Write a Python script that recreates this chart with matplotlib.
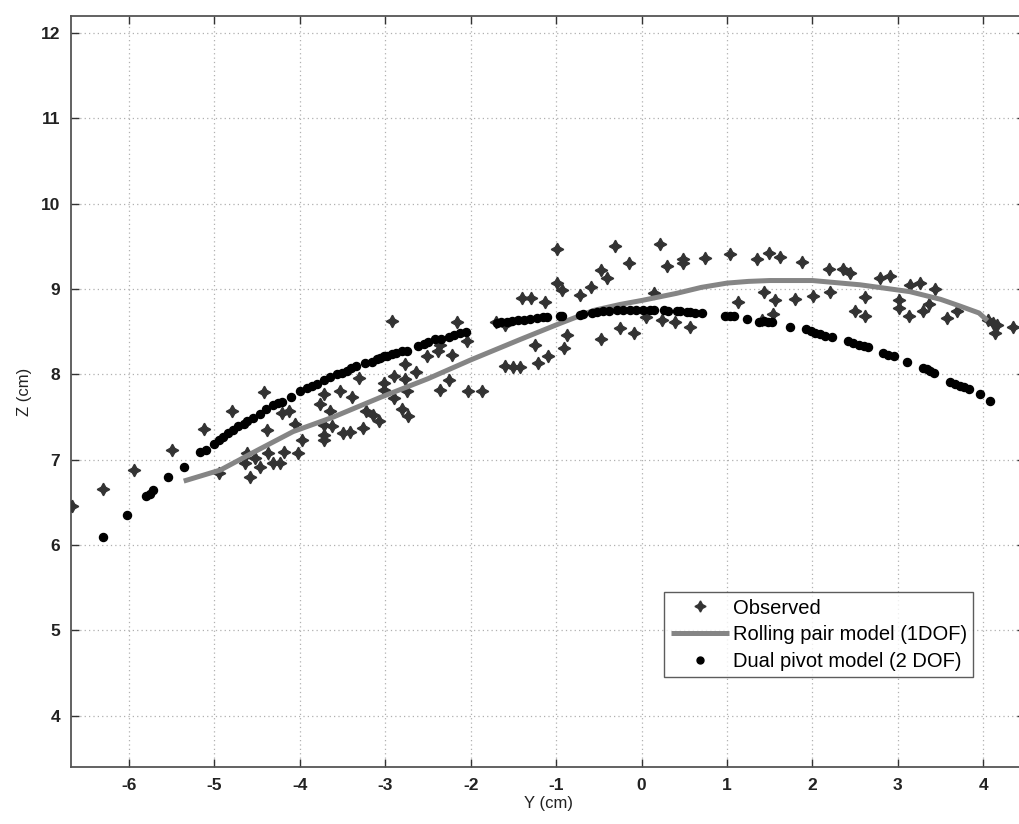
import matplotlib
matplotlib.use("Agg")
import matplotlib.pyplot as plt

plt.rcParams['font.family'] = ['Liberation Sans', 'DejaVu Sans']

# Observed points (Y, Z)
obs_y = [-6.67, -6.31, -5.94, -5.50, -5.12, -4.95, -4.79, -4.64, -4.62, -4.58, -4.52, -4.47,
         -4.42, -4.39, -4.37, -4.31, -4.23, -4.21, -4.19, -4.13, -4.06, -4.02, -3.98, -3.76,
         -3.72, -3.65, -3.72, -3.63, -3.72, -3.72, -3.53, -3.49, -3.41, -3.39, -3.31, -3.26,
         -3.23, -3.14, -3.07, -3.02, -3.02, -2.92, -2.90, -2.90, -2.81, -2.77, -2.77, -2.75,
         -2.73, -2.64, -2.51, -2.38, -2.36, -2.36, -2.26, -2.22, -2.16, -2.04, -2.03, -1.87,
         -1.70, -1.60, -1.60, -1.50, -1.42, -1.40, -1.30, -1.25, -1.21, -1.13, -1.09, -0.99,
         -0.99, -0.93, -0.91, -0.87, -0.72, -0.59, -0.48, -0.48, -0.41, -0.31, -0.25, -0.15,
         -0.09, 0.05, 0.14, 0.22, 0.24, 0.30, 0.39, 0.49, 0.49, 0.57, 0.74, 1.04, 1.13, 1.35,
         1.41, 1.43, 1.49, 1.54, 1.56, 1.62, 1.80, 1.88, 2.01, 2.19, 2.21, 2.36, 2.44, 2.50,
         2.62, 2.62, 2.79, 2.91, 3.01, 3.01, 3.13, 3.14, 3.26, 3.30, 3.36, 3.44, 3.57, 3.69,
         4.06, 4.12, 4.16, 4.14, 4.35]
obs_z = [6.46, 6.66, 6.88, 7.11, 7.36, 6.85, 7.57, 6.96, 7.08, 6.80, 7.02, 6.92,
         7.79, 7.35, 7.08, 6.96, 6.96, 7.55, 7.09, 7.57, 7.42, 7.08, 7.23, 7.65,
         7.77, 7.57, 7.41, 7.39, 7.29, 7.23, 7.81, 7.31, 7.33, 7.74, 7.96, 7.37,
         7.57, 7.53, 7.45, 7.90, 7.82, 8.63, 7.98, 7.72, 7.60, 7.95, 8.12, 7.80,
         7.51, 8.03, 8.22, 8.27, 7.82, 8.35, 7.94, 8.23, 8.61, 8.39, 7.81, 7.80,
         8.62, 8.58, 8.10, 8.09, 8.09, 8.89, 8.89, 8.34, 8.13, 8.85, 8.21, 9.47,
         9.07, 8.99, 8.31, 8.46, 8.93, 9.02, 9.22, 8.42, 9.13, 9.50, 8.54, 9.30,
         8.48, 8.67, 8.95, 9.53, 8.64, 9.27, 8.62, 9.35, 9.30, 8.56, 9.36, 9.41, 8.85, 9.35,
         8.64, 8.97, 9.42, 8.71, 8.87, 9.37, 8.88, 9.32, 8.92, 9.23, 8.97, 9.23, 9.19, 8.74,
         8.69, 8.91, 9.13, 9.15, 8.87, 8.78, 8.69, 9.05, 9.07, 8.74, 8.82, 9.00, 8.66, 8.74,
         8.64, 8.60, 8.58, 8.48, 8.55]

# Rolling pair model (1DOF)
rp_y = [-5.36, -4.93, -4.50, -4.08, -3.61, -3.06, -2.50, -2.00, -1.42, -0.95, -0.56, -0.25,
        0.02, 0.41, 0.70, 1.00, 1.25, 1.50, 2.00, 2.56, 3.14, 3.50, 3.73, 3.95, 4.05]
rp_z = [6.75, 6.88, 7.11, 7.33, 7.50, 7.73, 7.95, 8.17, 8.41, 8.60, 8.75, 8.82,
        8.87, 8.95, 9.02, 9.07, 9.09, 9.10, 9.10, 9.05, 8.97, 8.88, 8.80, 8.72, 8.63]

# Dual pivot model (2 DOF)
dp_y = [-6.30, -6.03, -5.80, -5.76, -5.72, -5.54, -5.36, -5.17, -5.10, -5.01, -4.95, -4.90,
        -4.84, -4.78, -4.72, -4.66, -4.62, -4.55, -4.47, -4.40, -4.31, -4.26, -4.21, -4.10,
        -4.00, -3.92, -3.86, -3.80, -3.72, -3.65, -3.57, -3.51, -3.45, -3.40, -3.34, -3.24,
        -3.16, -3.10, -3.06, -3.02, -2.98, -2.92, -2.87, -2.80, -2.75, -2.62, -2.55, -2.50,
        -2.42, -2.35, -2.26, -2.20, -2.12, -2.05, -1.69, -1.65, -1.58, -1.52, -1.45, -1.38,
        -1.31, -1.23, -1.15, -1.11, -0.96, -0.93, -0.72, -0.68, -0.58, -0.52, -0.45, -0.38,
        -0.29, -0.22, -0.13, -0.06, 0.02, 0.10, 0.14, 0.26, 0.31, 0.41, 0.45, 0.53,
        0.57, 0.63, 0.71, 0.98, 1.03, 1.08, 1.23, 1.37, 1.43, 1.48, 1.53, 1.74,
        1.92, 1.98, 2.03, 2.09, 2.15, 2.23, 2.42, 2.48, 2.54, 2.60, 2.65, 2.83,
        2.88, 2.95, 3.11, 3.30, 3.34, 3.38, 3.42, 3.61, 3.67, 3.73, 3.78, 3.83,
        3.96, 4.08]
dp_z = [6.09, 6.35, 6.57, 6.60, 6.64, 6.80, 6.92, 7.09, 7.12, 7.19, 7.23, 7.27,
        7.31, 7.35, 7.39, 7.42, 7.45, 7.49, 7.54, 7.59, 7.64, 7.66, 7.68, 7.74,
        7.80, 7.84, 7.86, 7.89, 7.93, 7.97, 8.00, 8.02, 8.04, 8.07, 8.10, 8.13,
        8.15, 8.18, 8.19, 8.21, 8.22, 8.24, 8.25, 8.27, 8.28, 8.33, 8.36, 8.38,
        8.41, 8.42, 8.44, 8.46, 8.48, 8.50, 8.60, 8.61, 8.61, 8.63, 8.64, 8.64,
        8.65, 8.66, 8.67, 8.67, 8.69, 8.69, 8.70, 8.71, 8.72, 8.73, 8.74, 8.74,
        8.75, 8.75, 8.75, 8.75, 8.75, 8.75, 8.75, 8.75, 8.74, 8.74, 8.74, 8.73,
        8.73, 8.72, 8.72, 8.69, 8.68, 8.68, 8.65, 8.62, 8.63, 8.62, 8.62, 8.56,
        8.53, 8.51, 8.49, 8.47, 8.45, 8.44, 8.39, 8.37, 8.35, 8.33, 8.32, 8.25,
        8.23, 8.21, 8.15, 8.07, 8.06, 8.04, 8.02, 7.91, 7.89, 7.87, 7.85, 7.83,
        7.77, 7.69]

x_ticks = [-6, -5, -4, -3, -2, -1, 0, 1, 2, 3, 4]
y_ticks = [4, 5, 6, 7, 8, 9, 10, 11, 12]

fig = plt.figure(figsize=(10.2, 8.24), dpi=100)
ax = fig.add_axes([0.0696, 0.0692, 0.9354, 0.9114])

ax.plot(obs_y, obs_z, linestyle='none', marker=(4, 1, 0), markersize=9,
        color='#333333', label='Observed', zorder=3)
ax.plot(rp_y, rp_z, color='#858585', linewidth=3.6, solid_capstyle='butt',
        solid_joinstyle='round', label='Rolling pair model (1DOF)', zorder=4)
ax.plot(dp_y, dp_z, linestyle='none', marker='o', markersize=5.8,
        color='black', label='Dual pivot model (2 DOF)', zorder=5)

ax.set_xlim(-6.68, 4.49)
ax.set_ylim(3.4, 12.2)
ax.set_xticks(x_ticks)
ax.set_yticks(y_ticks)
ax.set_xticklabels([str(t) for t in x_ticks])
ax.set_yticklabels([str(t) for t in y_ticks])

ax.grid(True, linestyle=(0, (1, 2.5)), color='#b0b0b0', linewidth=0.9)
ax.tick_params(direction='in', length=6, width=1, top=True, right=True,
               labelsize=12.5, color='#333333', pad=8)
for lab in ax.get_xticklabels() + ax.get_yticklabels():
    lab.set_fontweight('bold')
    lab.set_color('#222222')
for sp in ax.spines.values():
    sp.set_color('#555555')
    sp.set_linewidth(1.3)

ax.set_xlabel('Y (cm)', fontsize=12, labelpad=2, color='#222222')
ax.set_ylabel('Z (cm)', fontsize=12, labelpad=6, color='#222222')

leg = ax.legend(loc='lower right', bbox_to_anchor=(0.9455, 0.12), fontsize=14.5,
                frameon=True, fancybox=False, edgecolor='#333333',
                handlelength=2.9, borderpad=0.3, labelspacing=0.38,
                handletextpad=0.2, borderaxespad=0)
leg.get_frame().set_linewidth(1.0)
leg.legend_handles[0].set_markersize(8)
leg.legend_handles[2].set_markersize(5)

fig.savefig('out.png', dpi=100, facecolor='white')
